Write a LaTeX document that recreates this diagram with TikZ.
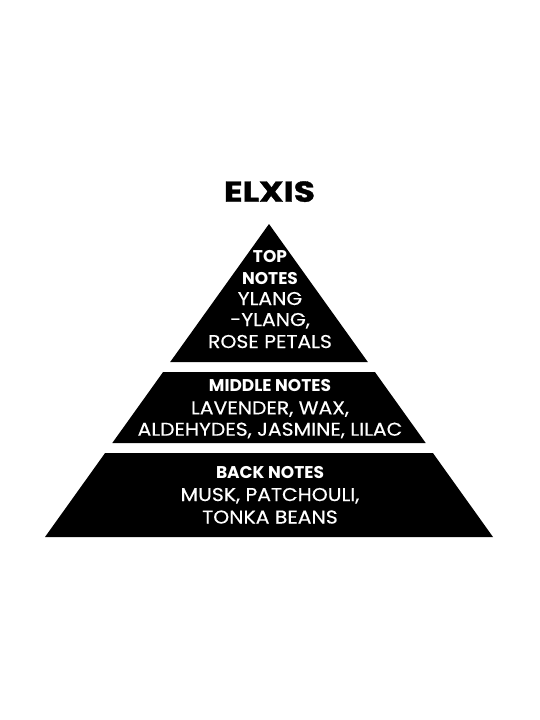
\documentclass[tikz,border=0pt]{standalone}
\usepackage{fontspec}
\setmainfont{Poppins}
\newfontfamily\titlefont{Poppins}[FakeStretch=1.2,BoldFeatures={FakeBold=1.2}]
\newfontfamily\bodyfont{Poppins}[FakeStretch=1.1,FakeBold=0.4]
\begin{document}
\begin{tikzpicture}[x=1pt,y=-1pt,
  tier/.style={fill=black,draw=none},
  ttl/.style={font=\titlefont\fontsize{28.7}{30}\selectfont\bfseries,text=black,inner sep=0pt,anchor=base},
  head/.style={font=\fontsize{17}{20}\selectfont\bfseries,text=white,inner sep=0pt,anchor=base},
  body/.style={font=\bodyfont\fontsize{18.5}{20}\selectfont,text=white,inner sep=0pt,anchor=base}]
\useasboundingbox[fill=white] (0,0) rectangle (540,720);
% pyramid tiers
\fill[tier] (269,224) -- (367.8,362) -- (170.2,362) -- cycle;
\fill[tier] (163.1,372) -- (374.9,372) -- (425.7,443) -- (112.3,443) -- cycle;
\fill[tier] (105.1,453) -- (432.9,453) -- (493,537) -- (45,537) -- cycle;
% title
\node[ttl] (title) at (269.5,201.7) {ELXIS};
% top
\node[head] (toph1) at (270,262) {TOP};
\node[head] (toph2) at (270,284) {NOTES};
\node[body] (topb1) at (270,305) {YLANG};
\node[body] (topb2) at (270,326) {-YLANG,};
\node[body] (topb3) at (270,348) {ROSE PETALS};
% middle
\node[head] (midh) at (270,391.7) {MIDDLE NOTES};
\node[body] (midb1) at (270,414.3) {LAVENDER, WAX,};
\node[body] (midb2) at (270,435.7) {ALDEHYDES, JASMINE, LILAC};
% back
\node[head] (backh) at (270,478) {BACK NOTES};
\node[body] (backb1) at (270,501) {MUSK, PATCHOULI,};
\node[body] (backb2) at (270,523.5) {TONKA BEANS};
\end{tikzpicture}
\end{document}
